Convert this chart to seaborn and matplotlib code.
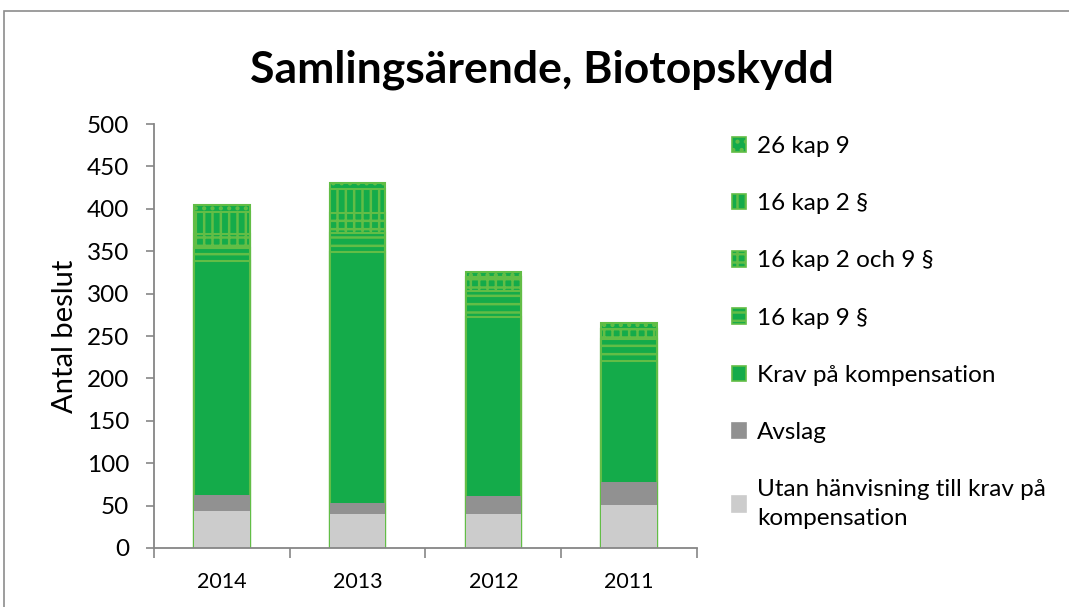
import numpy as np
import pandas as pd
import matplotlib
matplotlib.use("Agg")
import matplotlib.pyplot as plt
import matplotlib.patches as mpatches
import seaborn as sns

# data
years = ["2014", "2013", "2012", "2011"]
utan = [44, 40, 40, 51]
avslag = [19, 13, 21, 27]
krav = [275, 296, 211, 143]
kap16_9 = [16, 22, 31, 26]
kap16_2och9 = [16, 24, 16, 11]
kap16_2 = [26, 28, 0, 0]
kap26_9 = [9, 8, 6, 7]

series_names = ["Utan hänvisning till krav på\nkompensation", "Avslag", "Krav på kompensation",
                "16 kap 9 §", "16 kap 2 och 9 §", "16 kap 2 §", "26 kap 9"]
series_values = [utan, avslag, krav, kap16_9, kap16_2och9, kap16_2, kap26_9]

GREEN = "#14ab4a"
LGREEN = "#62bd46"
styles = [
    dict(color="#cccccc", edgecolor="#cccccc", hatch=None),
    dict(color="#919191", edgecolor="#919191", hatch=None),
    dict(color=GREEN, edgecolor=LGREEN, hatch=None),
    dict(color=GREEN, edgecolor=LGREEN, hatch="--"),
    dict(color=GREEN, edgecolor=LGREEN, hatch="++"),
    dict(color=GREEN, edgecolor=LGREEN, hatch="||"),
    dict(color=GREEN, edgecolor=LGREEN, hatch=".."),
]

sns.set_style("white")
plt.rcParams["font.family"] = ["Lato", "DejaVu Sans"]
plt.rcParams["hatch.linewidth"] = 1.8
plt.rcParams["text.color"] = "black"
plt.rcParams["axes.labelcolor"] = "black"
plt.rcParams["xtick.labelcolor"] = "black"
plt.rcParams["ytick.labelcolor"] = "black"

df = pd.DataFrame({"year": years})
cum = np.zeros(len(years))
cum_cols = []
for name, vals in zip(series_names, series_values):
    cum = cum + np.array(vals)
    df[name] = cum
    cum_cols.append(name)

fig = plt.figure(figsize=(10.69, 6.07), dpi=100)
ax = fig.add_axes([0.144, 0.0972, 0.508, 0.6985])

# draw cumulative totals from the top layer down so lower layers cover upper ones
for name, st in reversed(list(zip(cum_cols, styles))):
    sns.barplot(data=df, x="year", y=name, order=years, ax=ax, width=0.41,
                color=st["color"], edgecolor=st["edgecolor"], hatch=st["hatch"],
                linewidth=1.5 if st["color"] == GREEN else 0,
                saturation=1, errorbar=None)

ax.set_ylim(0, 500)
ax.set_xlim(-0.5, 3.5)
ax.set_yticks(range(0, 501, 50))
ax.set_xlabel("")
ax.set_ylabel("Antal beslut", fontsize=21, labelpad=6)
ax.tick_params(axis="y", labelsize=17.5, direction="out", length=6, width=1.2,
               color="#868686", left=True, pad=12)
ax.tick_params(axis="x", labelsize=15.5, length=0, pad=17)
ax.set_xticks([-0.5, 0.5, 1.5, 2.5, 3.5], minor=True)
ax.tick_params(axis="x", which="minor", direction="out", length=7, width=1.2,
               color="#868686", bottom=True)
for s in ["top", "right"]:
    ax.spines[s].set_visible(False)
for s in ["left", "bottom"]:
    ax.spines[s].set_color("#868686")
    ax.spines[s].set_linewidth(1.3)

fig.text(0.507, 0.885, "Samlingsärende, Biotopskydd", ha="center", va="center",
         fontsize=32, fontweight="bold")

handles = []
for name, st in zip(series_names, styles):
    handles.append(mpatches.Patch(facecolor=st["color"], edgecolor=st["edgecolor"],
                                  hatch=st["hatch"], linewidth=1.2, label=name))
leg = fig.legend(handles=handles[::-1], loc="upper left", bbox_to_anchor=(0.664, 0.812),
                 frameon=False, fontsize=17.5, handlelength=0.6, handleheight=0.6,
                 handletextpad=0.45, labelspacing=1.49)
leg.get_texts()[-1].set_linespacing(1.45)

# chart-area border
fig.patches.append(mpatches.Rectangle((0.004, -0.05), 1.2, 1.032, transform=fig.transFigure,
                                      fill=False, edgecolor="#8c8c8c", linewidth=1.2))

fig.savefig("out.png", dpi=100)
